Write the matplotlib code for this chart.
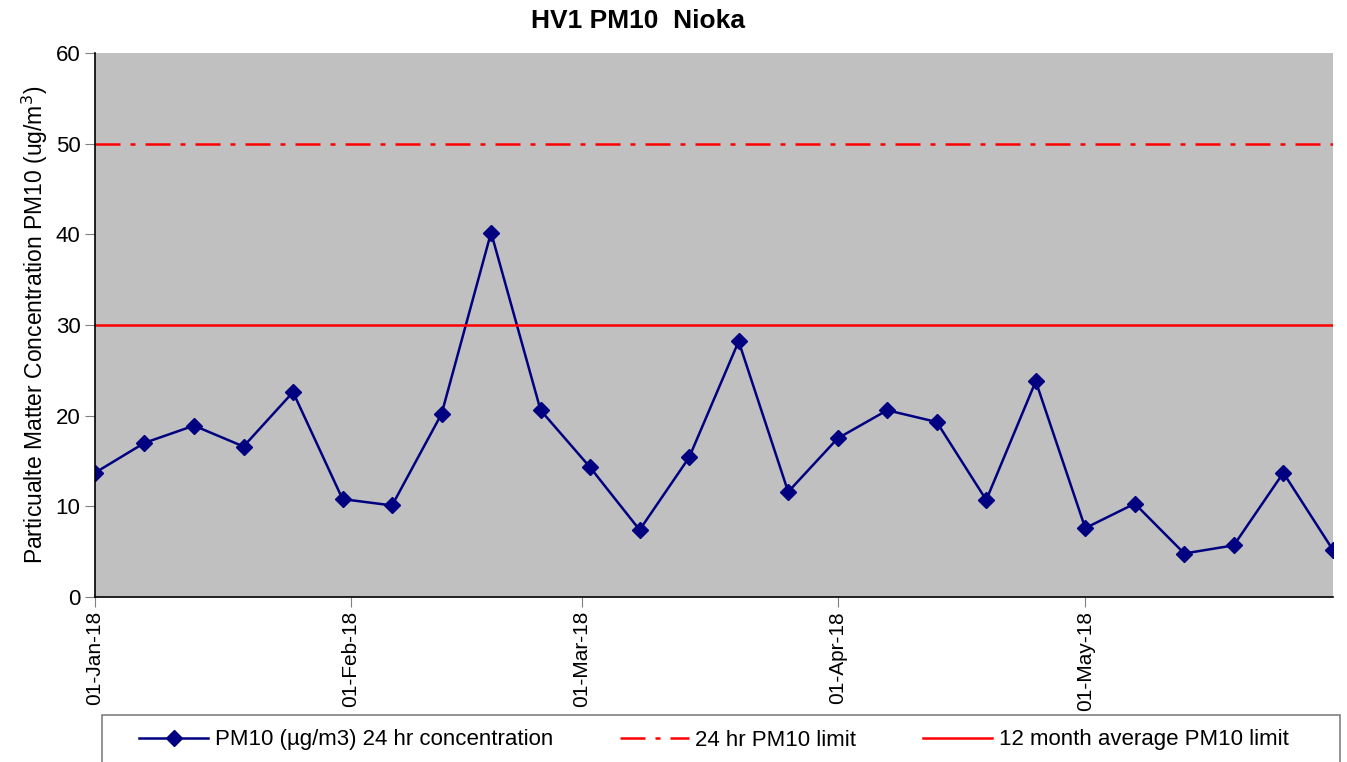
import numpy as np
import pandas as pd
import matplotlib
matplotlib.use('Agg')
import matplotlib.pyplot as plt
import matplotlib.dates as mdates
from matplotlib.patches import Rectangle

plt.rcParams['font.family'] = ['Liberation Sans', 'DejaVu Sans']

# sampling dates (every 6 days) and PM10 values
dates = pd.date_range('2018-01-01', periods=26, freq='6D')
pm10 = [13.7, 17.0, 18.9, 16.6, 22.6, 10.8, 10.1, 20.2, 40.2, 20.6,
        14.3, 7.4, 15.4, 28.2, 11.6, 17.5, 20.6, 19.3, 10.7, 23.8,
        7.6, 10.3, 4.8, 5.7, 13.7, 5.2]
limit_24hr = 50
limit_annual = 30

fig = plt.figure(figsize=(13.47, 7.62), dpi=100)
ax = fig.add_axes([0.0705, 0.2165, 0.919, 0.714])
ax.set_facecolor('#c0c0c0')

ax.plot(dates, pm10, color='#000080', marker='D', markersize=8, linewidth=1.8,
        label='PM10 (µg/m3) 24 hr concentration')
ax.axhline(limit_24hr, color='red', linestyle=(0, (10, 4, 2, 4)), linewidth=1.8,
           label='24 hr PM10 limit')
ax.axhline(limit_annual, color='red', linewidth=1.8,
           label='12 month average PM10 limit')

ax.set_xlim(dates[0], dates[-1])
ax.set_ylim(0, 60)
ax.set_yticks(range(0, 61, 10))
ax.xaxis.set_major_locator(mdates.MonthLocator())
ax.xaxis.set_major_formatter(mdates.DateFormatter('%d-%b-%y'))
plt.setp(ax.get_xticklabels(), rotation=90)
ax.tick_params(axis='both', labelsize=16, length=7, direction='out', color='#808080')
ax.tick_params(axis='x', labelsize=15, pad=3)

for s in ['top', 'right']:
    ax.spines[s].set_visible(False)
for s in ['left', 'bottom']:
    ax.spines[s].set_color('black')
    ax.spines[s].set_linewidth(1.2)

ax.set_ylabel('Particualte Matter Concentration PM10 (ug/m$^3$)', fontsize=16.5)
fig.text(0.4737, 0.972, 'HV1 PM10  Nioka', fontsize=19, fontweight='bold',
         ha='center', va='center')

# legend box
fig.patches.append(Rectangle((102 / 1347, -0.01), 1238 / 1347, 1 - 715 / 762 + 0.01,
                             transform=fig.transFigure, facecolor='white',
                             edgecolor='#808080', linewidth=1.2))
fig.legend(loc='center', bbox_to_anchor=(0.530, 1 - 740 / 762), ncol=3,
           fontsize=16, frameon=False, handlelength=3.1, handletextpad=0.3,
           columnspacing=3.0, borderaxespad=0)

plt.savefig('out.png', dpi=100)
